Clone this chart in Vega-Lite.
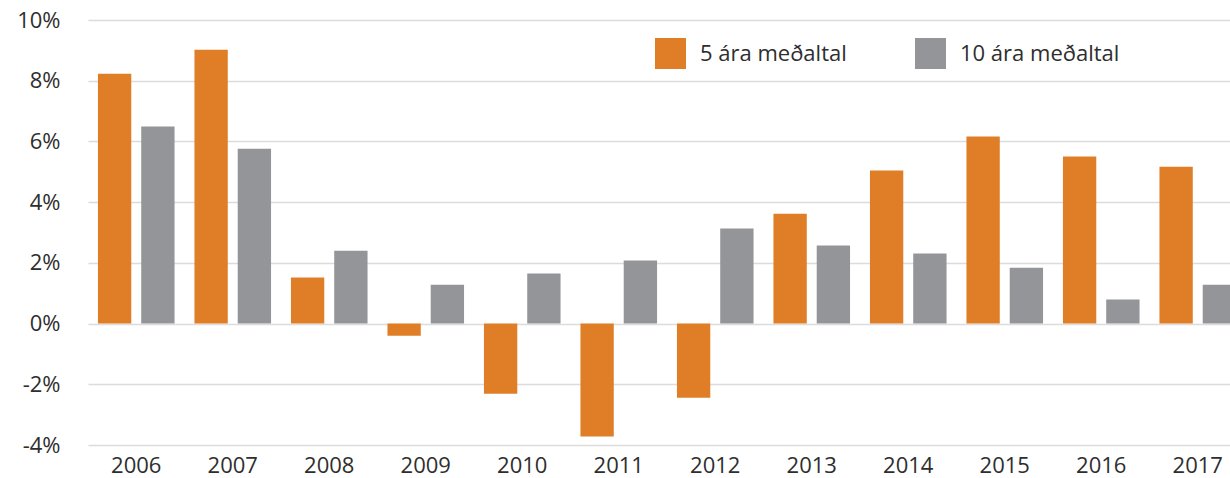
{
  "$schema": "https://vega.github.io/schema/vega-lite/v6.json",
  "width": 1142,
  "height": 425,
  "autosize": {"type": "none"},
  "padding": {"left": 88, "top": 20, "right": 0, "bottom": 33},
  "background": "white",
  "config": {
    "font": "Open Sans",
    "view": {"stroke": null},
    "axis": {"labelFont": "Open Sans", "labelColor": "#2e2e2e", "labelFontSize": 22}
  },
  "data": {
    "values": [
      {"year": "2006", "series": "5 ára meðaltal", "value": 8.23},
      {"year": "2006", "series": "10 ára meðaltal", "value": 6.49},
      {"year": "2007", "series": "5 ára meðaltal", "value": 9.02},
      {"year": "2007", "series": "10 ára meðaltal", "value": 5.76},
      {"year": "2008", "series": "5 ára meðaltal", "value": 1.52},
      {"year": "2008", "series": "10 ára meðaltal", "value": 2.40},
      {"year": "2009", "series": "5 ára meðaltal", "value": -0.40},
      {"year": "2009", "series": "10 ára meðaltal", "value": 1.28},
      {"year": "2010", "series": "5 ára meðaltal", "value": -2.31},
      {"year": "2010", "series": "10 ára meðaltal", "value": 1.65},
      {"year": "2011", "series": "5 ára meðaltal", "value": -3.72},
      {"year": "2011", "series": "10 ára meðaltal", "value": 2.08},
      {"year": "2012", "series": "5 ára meðaltal", "value": -2.44},
      {"year": "2012", "series": "10 ára meðaltal", "value": 3.13},
      {"year": "2013", "series": "5 ára meðaltal", "value": 3.62},
      {"year": "2013", "series": "10 ára meðaltal", "value": 2.57},
      {"year": "2014", "series": "5 ára meðaltal", "value": 5.04},
      {"year": "2014", "series": "10 ára meðaltal", "value": 2.31},
      {"year": "2015", "series": "5 ára meðaltal", "value": 6.16},
      {"year": "2015", "series": "10 ára meðaltal", "value": 1.84},
      {"year": "2016", "series": "5 ára meðaltal", "value": 5.50},
      {"year": "2016", "series": "10 ára meðaltal", "value": 0.79},
      {"year": "2017", "series": "5 ára meðaltal", "value": 5.17},
      {"year": "2017", "series": "10 ára meðaltal", "value": 1.28}
    ]
  },
  "mark": {"type": "bar", "clip": true},
  "encoding": {
    "x": {
      "field": "year",
      "type": "nominal",
      "scale": {"range": [0, 1158], "paddingInner": 0, "paddingOuter": 0},
      "axis": {
        "title": null,
        "labelAngle": 0,
        "ticks": false,
        "domain": false,
        "grid": false,
        "labelPadding": 10
      }
    },
    "xOffset": {
      "field": "series",
      "type": "nominal",
      "sort": ["5 ára meðaltal", "10 ára meðaltal"],
      "scale": {"paddingInner": 0.23, "paddingOuter": 0.23}
    },
    "y": {
      "field": "value",
      "type": "quantitative",
      "scale": {"domain": [-4, 10], "nice": false, "zero": false},
      "axis": {
        "title": null,
        "values": [-4, -2, 0, 2, 4, 6, 8, 10],
        "labelExpr": "datum.value + '%'",
        "ticks": false,
        "domain": false,
        "grid": true,
        "gridColor": "#dcdcdc",
        "gridWidth": 1.5,
        "labelPadding": 28
      }
    },
    "color": {
      "field": "series",
      "type": "nominal",
      "sort": ["5 ára meðaltal", "10 ára meðaltal"],
      "scale": {"domain": ["5 ára meðaltal", "10 ára meðaltal"], "range": ["#E07E27", "#939598"]},
      "legend": {
        "title": null,
        "orient": "none",
        "legendX": 567,
        "legendY": 18,
        "direction": "horizontal",
        "symbolType": "square",
        "symbolSize": 961,
        "symbolStrokeWidth": 0,
        "labelFontSize": 22,
        "labelColor": "#2e2e2e",
        "labelFont": "Open Sans",
        "labelOffset": 14,
        "columnPadding": 68,
        "labelLimit": 300
      }
    }
  }
}
